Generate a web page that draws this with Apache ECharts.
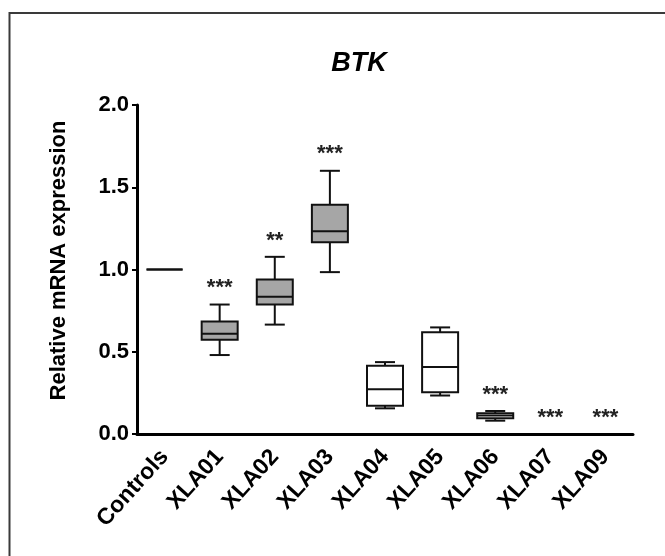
<!DOCTYPE html>
<html>
<head>
<meta charset="utf-8">
<script src="https://cdn.jsdelivr.net/npm/echarts@6/dist/echarts.min.js"></script>
<style>
html,body{margin:0;padding:0;background:#fff;}
#chart{width:665px;height:556px;}
</style>
</head>
<body>
<div id="chart"></div>
<script>
const categories = ['Controls','XLA01','XLA02','XLA03','XLA04','XLA05','XLA06','XLA07','XLA09'];
const whiskerLow  = [1.0, 0.48, 0.665, 0.984, 0.156, 0.234, 0.081, null, null];
const quartile1   = [1.0, 0.573, 0.787, 1.165, 0.171, 0.254, 0.095, null, null];
const medians     = [1.0, 0.61, 0.834, 1.233, 0.272, 0.407, 0.112, null, null];
const quartile3   = [1.0, 0.684, 0.939, 1.394, 0.415, 0.618, 0.126, null, null];
const whiskerHigh = [1.0, 0.787, 1.077, 1.60, 0.437, 0.648, 0.14, null, null];
const significance = ['', '***', '**', '***', '', '', '***', '***', '***'];
const filledBox = [false, true, true, true, false, false, false, false, false];
const yTicks = [0, 0.5, 1.0, 1.5, 2.0];

const boxData = categories.map((c, i) => [i, whiskerLow[i], quartile1[i], medians[i], quartile3[i], whiskerHigh[i]]);

const BOX_W = 36, CAP_W = 20, STAR_GAP = 0.13;
const FONT = '"Liberation Sans", Arial, sans-serif';

function renderBox(params, api) {
  const i = api.value(0);
  const children = [];
  const stroke = {stroke: '#111', lineWidth: 2};
  const has = whiskerLow[i] !== null;
  if (has) {
    const pLow = api.coord([i, whiskerLow[i]]);
    const pQ1 = api.coord([i, quartile1[i]]);
    const pMed = api.coord([i, medians[i]]);
    const pQ3 = api.coord([i, quartile3[i]]);
    const pHigh = api.coord([i, whiskerHigh[i]]);
    const x = pMed[0];
    children.push({type: 'line', shape: {x1: x, y1: pHigh[1], x2: x, y2: pQ3[1]}, style: stroke});
    children.push({type: 'line', shape: {x1: x, y1: pQ1[1], x2: x, y2: pLow[1]}, style: stroke});
    if (whiskerHigh[i] !== quartile3[i]) {
      children.push({type: 'line', shape: {x1: x - CAP_W / 2, y1: pHigh[1], x2: x + CAP_W / 2, y2: pHigh[1]}, style: stroke});
      children.push({type: 'line', shape: {x1: x - CAP_W / 2, y1: pLow[1], x2: x + CAP_W / 2, y2: pLow[1]}, style: stroke});
    }
    children.push({type: 'rect', shape: {x: x - BOX_W / 2, y: pQ3[1], width: BOX_W, height: pQ1[1] - pQ3[1]},
      style: {fill: filledBox[i] ? '#a6a6a6' : '#fff', stroke: '#111', lineWidth: 2}});
    children.push({type: 'line', shape: {x1: x - BOX_W / 2, y1: pMed[1], x2: x + BOX_W / 2, y2: pMed[1]}, style: stroke});
  }
  if (significance[i]) {
    const top = (has ? whiskerHigh[i] : 0) + STAR_GAP;
    const p = api.coord([i, top]);
    children.push({type: 'text', style: {text: significance[i], x: p[0], y: p[1] + 5, align: 'center', verticalAlign: 'middle',
      font: 'bold 22px ' + FONT, fill: '#222'}});
  }
  return {type: 'group', children};
}

const chart = echarts.init(document.getElementById('chart'), null, {renderer: 'canvas'});
chart.setOption({
  animation: false,
  backgroundColor: '#fff',
  graphic: [
    {type: 'rect', shape: {x: 9.5, y: 13, width: 800, height: 700}, style: {fill: 'none', stroke: '#3a3a3a', lineWidth: 2}, silent: true}
  ],
  title: {
    text: 'BTK', left: 354, top: 45, textAlign: 'center',
    textStyle: {fontFamily: FONT, fontSize: 27, fontWeight: 'bold', fontStyle: 'italic', color: '#000'}
  },
  grid: {left: 137, right: 32, top: 105, bottom: 122, containLabel: false},
  xAxis: {
    type: 'category', data: categories, boundaryGap: true,
    axisLine: {lineStyle: {color: '#000', width: 3}},
    axisTick: {alignWithLabel: true, length: 5, lineStyle: {color: '#000', width: 3}},
    axisLabel: {rotate: 48, margin: 19, color: '#000', fontSize: 23, fontWeight: 'bold', fontFamily: FONT, interval: 0},
    splitLine: {show: false}
  },
  yAxis: {
    type: 'value', min: 0, max: 2, interval: 0.5,
    name: 'Relative mRNA expression', nameLocation: 'middle', nameGap: 67, nameRotate: 90,
    nameTextStyle: {color: '#000', fontSize: 22, fontWeight: 'bold', fontFamily: FONT, padding: [0, 0, 0, 18]},
    axisLine: {show: true, lineStyle: {color: '#000', width: 3}},
    axisTick: {show: true, length: 5, lineStyle: {color: '#000', width: 2}},
    axisLabel: {margin: 8, color: '#000', fontSize: 22, fontWeight: 'bold', fontFamily: FONT,
      formatter: v => yTicks.includes(v) ? v.toFixed(1) : ''},
    splitLine: {show: false}
  },
  series: [{
    type: 'custom', renderItem: renderBox, data: boxData,
    encode: {x: 0, y: [1, 2, 3, 4, 5]}, clip: false
  }]
});
</script>
</body>
</html>
